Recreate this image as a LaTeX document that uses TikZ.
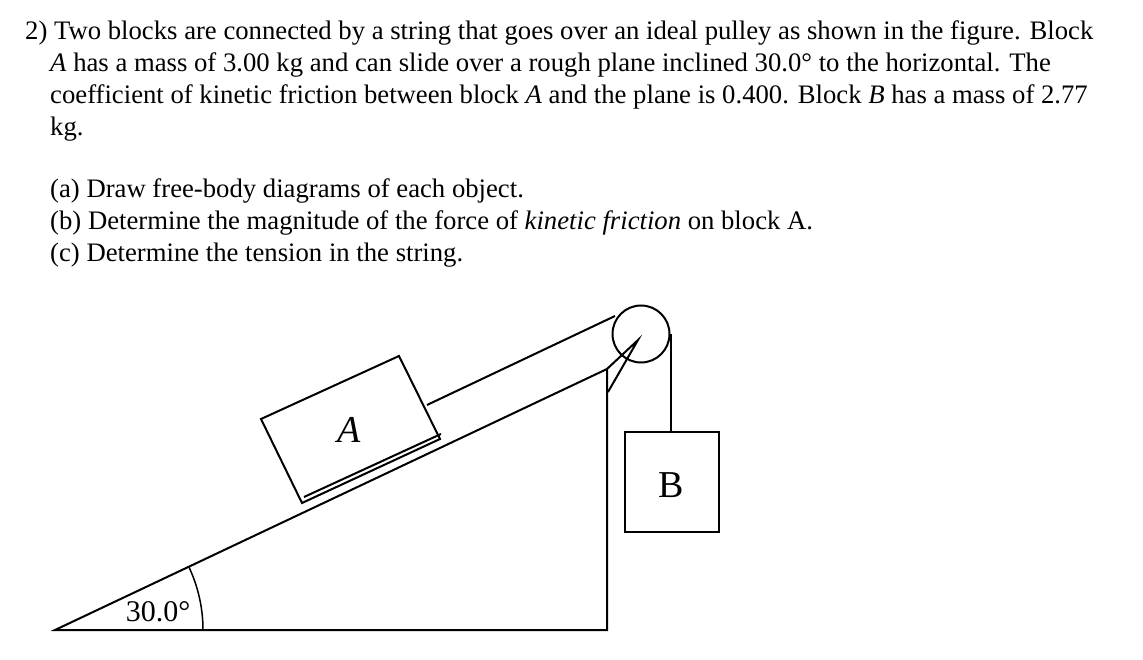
\documentclass[tikz,border=0pt]{standalone}
\usepackage{fontspec}
\setmainfont{Liberation Serif}
\begin{document}
\begin{tikzpicture}[x=1pt,y=-1pt,
  txt/.style={anchor=base west,inner sep=0pt,font=\fontsize{26.7}{30}\selectfont},
  ln/.style={line width=2pt},
  lbl/.style={font=\fontsize{38}{42}\selectfont,inner sep=0pt}]
\useasboundingbox (0,0) rectangle (1143,660);
\node[txt] (l1) at (25,40) {2) Two blocks are connected by a string that goes over an ideal pulley as shown in the figure. Block};
\node[txt] (l2) at (50,72) {\textit{A} has a mass of 3.00 kg and can slide over a rough plane inclined 30.0° to the horizontal. The};
\node[txt] (l3) at (50,104) {coefficient of kinetic friction between block \textit{A} and the plane is 0.400. Block \textit{B} has a mass of 2.77};
\node[txt] (l4) at (50,136) {kg.};
\node[txt] (pa) at (50,198) {(a) Draw free-body diagrams of each object.};
\node[txt] (pb) at (50,230) {(b) Determine the magnitude of the force of \textit{kinetic friction} on block A.};
\node[txt] (pc) at (50,262) {(c) Determine the tension in the string.};
% incline
\coordinate (O) at (55,630);
\coordinate (R) at (607,630);
\coordinate (T) at (607,369);
\draw[ln] (O) -- (R) -- (T) -- cycle;
\draw[line width=1.5pt] (O) ++(-25.4:148) arc[start angle=-25.4,end angle=0,radius=148];
\node[font=\fontsize{30}{34}\selectfont,inner sep=0pt] (ang) at (158,612) {30.0°};
% block A
\coordinate (a1) at (261,419);
\coordinate (a2) at (399,356);
\coordinate (a3) at (440,439);
\coordinate (a4) at (302,503);
\draw[ln] (a1) -- (a2) -- (a3) -- (a4) -- cycle;
\draw[ln] (304,497) -- (441,434);
\node[lbl,font=\fontsize{38}{42}\selectfont\itshape] (Alab) at (349,430) {A};
% pulley
\node[draw,circle,line width=2pt,minimum size=57pt,inner sep=0pt] (P) at (641,334) {};
\coordinate (Pc) at (638,340);
\draw[ln] (T) -- (Pc) -- (608,392);
\draw[ln] (427,405) -- (615,316);
% block B
\node[draw,line width=2pt,minimum width=94pt,minimum height=100pt,inner sep=0pt] (B) at (672,482) {};
\node[lbl] (Blab) at (671,485) {B};
\draw[ln] (P.east) -- (B.north -| P.east);
\end{tikzpicture}
\end{document}
